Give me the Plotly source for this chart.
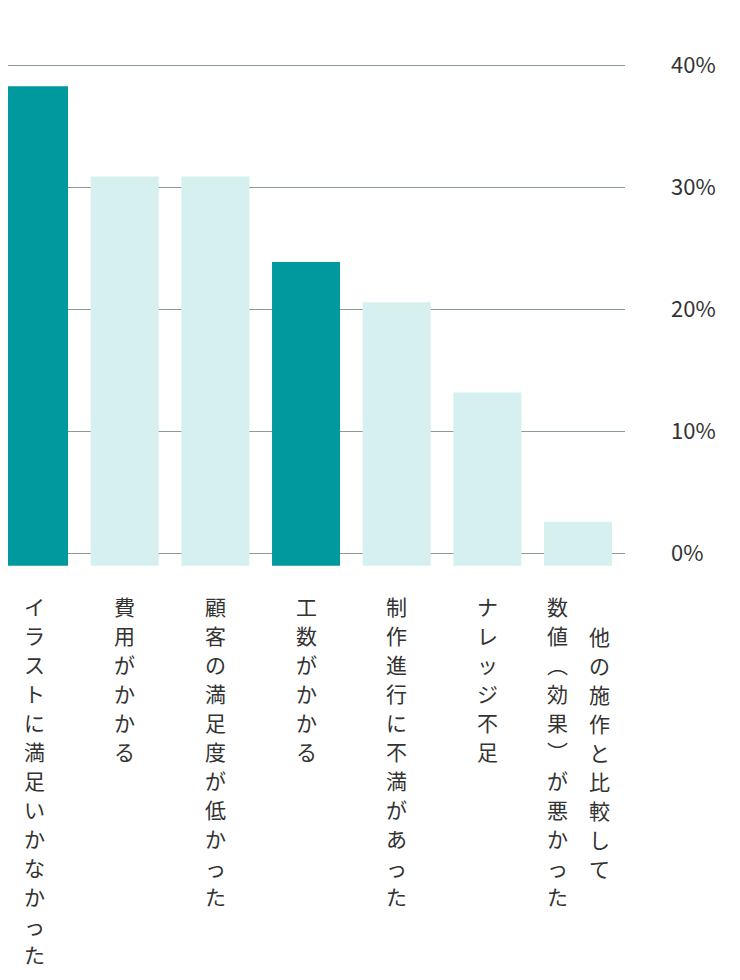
import plotly.graph_objects as go

labels = ["イラストに満足いかなかった", "費用がかかる", "顧客の満足度が低かった", "工数がかかる",
          "制作進行に不満があった", "ナレッジ不足", "他の施作と比較して|数値︵効果︶が悪かった"]
values = [38.3, 30.9, 30.9, 23.9, 20.6, 13.2, 2.6]
highlight = [True, False, False, True, False, False, False]
tick_vals = [0, 10, 20, 30, 40]
tick_text = ["0%", "10%", "20%", "30%", "40%"]

dark = "#00999e"
light = "#d6efef"
base = -1.0
font = "Noto Sans CJK JP"
step = 29  # vertical spacing of characters

fig = go.Figure(go.Bar(
    x=list(range(len(values))),
    y=[v - base for v in values],
    base=base,
    width=0.75,
    marker=dict(color=[dark if h else light for h in highlight], line=dict(width=0)),
    hoverinfo="skip",
))


def column(i, text, xshift, top):
    # vertical writing: one annotation per character
    for k, ch in enumerate(text):
        fig.add_annotation(x=i, y=0, yref="paper", yanchor="middle", xanchor="center",
                           yshift=-(top + step * k), xshift=xshift,
                           text=ch, showarrow=False,
                           font=dict(family=font, size=21, color="#333333"))


for i, lab in enumerate(labels):
    cols = lab.split("|")
    if len(cols) == 1:
        column(i, cols[0], 0, 28)
    else:
        column(i, cols[0], 21, 58)
        column(i, cols[1], -21, 28)

fig.update_layout(
    width=740, height=980,
    margin=dict(l=0, r=123, t=33, b=410),
    plot_bgcolor="white", paper_bgcolor="white",
    showlegend=False,
    xaxis=dict(range=[-0.287, 6.518], showticklabels=False, showgrid=False, zeroline=False),
    yaxis=dict(range=[-2, 42], side="right", tickvals=tick_vals, ticktext=tick_text,
               showgrid=True, gridcolor="#8a9a98", gridwidth=1, zeroline=False,
               ticklabelstandoff=45,
               tickfont=dict(family=font, size=22, color="#333333")),
)

fig.write_html("out.html")
